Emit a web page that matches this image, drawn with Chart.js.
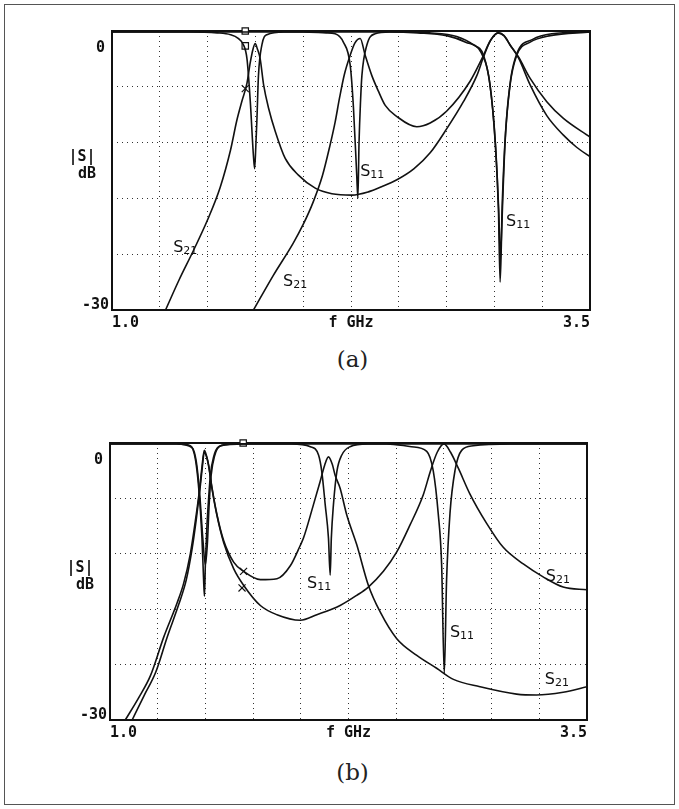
<!DOCTYPE html>
<html>
<head>
<meta charset="utf-8">
<script src="https://cdn.jsdelivr.net/npm/chart.js@4.4.1/dist/chart.umd.min.js"></script>
<style>
  html, body { margin: 0; padding: 0; background: #fff; }
  #page { position: relative; width: 679px; height: 809px; background: #fff; overflow: hidden; }
  #frame { position: absolute; left: 4px; top: 4px; width: 671px; height: 801px; border: 1px solid #555; box-sizing: border-box; }
  .panel { position: absolute; left: 0; width: 679px; height: 345px; }
  #panel-a { top: 0; }
  #panel-b { top: 410px; }
  .caption { position: absolute; left: 0; width: 679px; text-align: center; font-family: 'DejaVu Serif', serif; font-size: 23px; line-height: 27px; color: #222; padding-left: 26px; box-sizing: border-box; }
</style>
</head>
<body>
<div id="page">
  <div id="frame"></div>
  <div class="panel" id="panel-a"><canvas id="chart-a"></canvas></div>
  <div class="caption" style="top:346px">(a)</div>
  <div class="panel" id="panel-b"><canvas id="chart-b"></canvas></div>
  <div class="caption" style="top:759px">(b)</div>
</div>
<script>
// axis text
const xLabelValues = [1.0, 2.25, 3.5];
const xLabelTexts = ['1.0', 'f GHz', '3.5'];
const yLabelValues = [0, -30];
const yLabelTexts = ['0', '-30'];

// panel (a) curves, [GHz, dB]
const aS21First = [[1.28,-30],[1.35,-26.8],[1.426,-23.6],[1.5,-20.3],[1.566,-16.8],[1.62,-12.8],[1.653,-9.6],[1.68,-7.5],[1.706,-5.6],[1.723,-3.4],[1.738,-1.9],[1.749,-1.35],[1.76,-1.9],[1.775,-3.0],[1.793,-5.8],[1.819,-8.3],[1.854,-10.8],[1.906,-13.7],[1.975,-15.5],[2.063,-16.9],[2.15,-17.5],[2.255,-17.65],[2.341,-17.3],[2.41,-16.75],[2.49,-16.0],[2.58,-14.8],[2.664,-13.1],[2.751,-10.5],[2.838,-7.6],[2.908,-4.8],[2.943,-2.8],[2.98,-1.0],[3.02,-0.2],[3.05,-0.5],[3.082,-1.5],[3.126,-2.9],[3.187,-5.8],[3.274,-9.1],[3.361,-11.2],[3.43,-12.5],[3.5,-13.5]];
const aS21Second = [[1.74,-30],[1.843,-26.3],[1.948,-22.8],[2.0,-20.8],[2.052,-18.4],[2.1,-15.6],[2.139,-12.4],[2.167,-9.8],[2.19,-7.2],[2.215,-4.7],[2.246,-2.6],[2.27,-1.3],[2.298,-0.8],[2.324,-2.6],[2.359,-4.8],[2.394,-6.5],[2.429,-8.0],[2.49,-9.2],[2.594,-10.3],[2.664,-9.9],[2.751,-8.6],[2.873,-5.4],[2.934,-3.0],[2.98,-1.0],[3.02,-0.2],[3.05,-0.5],[3.082,-1.5],[3.126,-2.8],[3.187,-5.1],[3.274,-7.6],[3.361,-9.4],[3.5,-11.4]];
const aS11First = [[1.0,-0.1],[1.4,-0.1],[1.55,-0.2],[1.62,-0.4],[1.66,-0.8],[1.688,-1.5],[1.706,-3.0],[1.723,-7.5],[1.74,-13.5],[1.746,-14.8],[1.752,-12.5],[1.758,-9.5],[1.766,-4.8],[1.784,-1.5],[1.81,-0.4],[1.9,-0.1],[2.5,-0.1],[2.66,-0.2],[2.803,-0.6],[2.89,-1.5],[2.943,-2.6],[2.977,-5.8],[3.004,-11.9],[3.021,-19.1],[3.03,-27],[3.039,-20.9],[3.056,-11.9],[3.082,-5.8],[3.117,-2.6],[3.187,-1.2],[3.292,-0.5],[3.5,-0.1]];
const aS11Second = [[1.0,-0.1],[2.0,-0.1],[2.12,-0.2],[2.167,-0.3],[2.21,-1.2],[2.246,-3.7],[2.263,-8.3],[2.28,-15.5],[2.286,-18.0],[2.292,-12.0],[2.3,-7.5],[2.307,-4.8],[2.333,-1.5],[2.376,-0.3],[2.45,-0.1],[2.6,-0.2],[2.75,-0.5],[2.85,-1.2],[2.93,-2.3],[2.975,-5.5],[3.005,-12],[3.022,-19],[3.032,-24.5],[3.042,-18],[3.058,-11],[3.085,-5.2],[3.12,-2.3],[3.2,-0.9],[3.3,-0.3],[3.5,-0.1]];
const aMarkers = [[1.697,0],[1.697,-1.6],[1.697,-6.2]];
const aMarkerKinds = ['rect','rect','crossRot'];
const aCurveLabels = [['21',1.383,-23.1],['21',1.958,-26.8],['11',2.361,-14.9],['11',3.124,-20.3]];

// panel (b) curves, [GHz, dB]
const bS21First = [[1.08,-30],[1.15,-27.6],[1.212,-25.2],[1.282,-21.0],[1.352,-17.3],[1.386,-15.2],[1.421,-12.0],[1.447,-8.5],[1.47,-4.9],[1.482,-2.6],[1.494,-0.8],[1.506,-1.4],[1.517,-2.4],[1.535,-4.9],[1.561,-7.8],[1.596,-10.6],[1.648,-12.9],[1.7,-13.9],[1.788,-14.8],[1.875,-14.7],[1.945,-13.3],[1.997,-11.1],[2.014,-10.3],[2.066,-6.7],[2.101,-4.2],[2.125,-2.4],[2.145,-1.5],[2.165,-2.3],[2.18,-3.5],[2.206,-4.9],[2.241,-7.8],[2.293,-11.0],[2.354,-15.4],[2.416,-18.3],[2.503,-21.2],[2.608,-23.0],[2.712,-24.4],[2.8,-25.6],[2.939,-26.4],[3.131,-27.2],[3.235,-27.3],[3.375,-27.0],[3.5,-26.4]];
const bS21Second = [[1.116,-30],[1.18,-27.3],[1.24,-24.8],[1.3,-21.0],[1.36,-17.5],[1.4,-14.8],[1.43,-11.5],[1.452,-8.3],[1.472,-4.9],[1.484,-2.6],[1.494,-1.0],[1.506,-1.5],[1.517,-2.5],[1.535,-5.0],[1.561,-7.9],[1.596,-10.8],[1.648,-13.6],[1.7,-15.4],[1.788,-17.6],[1.875,-18.6],[1.997,-19.2],[2.084,-18.6],[2.206,-17.6],[2.293,-16.5],[2.354,-15.6],[2.433,-13.9],[2.503,-11.8],[2.572,-8.9],[2.642,-5.6],[2.68,-3.0],[2.715,-1.0],[2.75,-0.1],[2.785,-1.0],[2.825,-2.7],[2.886,-5.5],[2.974,-8.7],[3.061,-11.3],[3.166,-13.1],[3.27,-14.5],[3.375,-15.6],[3.5,-15.9]];
const bS11First = [[1.0,-0.1],[1.35,-0.1],[1.421,-0.3],[1.447,-1.7],[1.465,-4.9],[1.482,-10.3],[1.49,-14.5],[1.495,-16.6],[1.5,-13.0],[1.508,-9.0],[1.517,-6.0],[1.526,-3.5],[1.543,-1.5],[1.57,-0.4],[1.65,-0.1],[1.95,-0.1],[2.05,-0.4],[2.093,-1.3],[2.11,-3.1],[2.128,-6.7],[2.145,-10.3],[2.154,-14.3],[2.16,-10.3],[2.171,-6.7],[2.189,-3.1],[2.215,-1.3],[2.258,-0.4],[2.35,-0.1],[3.5,-0.1]];
const bS11Second = [[1.0,-0.1],[1.35,-0.1],[1.43,-0.5],[1.452,-2.0],[1.47,-5.5],[1.487,-10.5],[1.5,-13.2],[1.51,-11.0],[1.52,-6.5],[1.53,-3.5],[1.548,-1.4],[1.58,-0.3],[1.7,-0.1],[2.45,-0.1],[2.58,-0.4],[2.66,-0.9],[2.694,-3.0],[2.72,-7.6],[2.738,-13.1],[2.752,-25.0],[2.764,-14.9],[2.782,-7.6],[2.808,-3.0],[2.843,-0.8],[2.904,-0.3],[3.1,-0.1],[3.5,-0.1]];
const bMarkers = [[1.698,0],[1.7,-13.9],[1.692,-15.7]];
const bMarkerKinds = ['rect','crossRot','crossRot'];
const bCurveLabels = [['11',2.096,-15.1],['11',2.845,-20.4],['21',3.347,-14.3],['21',3.342,-25.5]];

const INK = '#111';

// frame, y-axis text and curve labels
const panelDecor = {
  id: 'panelDecor',
  beforeDatasetsDraw(chart) {
    const { ctx, chartArea: ca } = chart;
    ctx.save();
    ctx.strokeStyle = INK;
    ctx.lineWidth = 2;
    ctx.strokeRect(ca.left, ca.top, ca.right - ca.left, ca.bottom - ca.top);
    ctx.restore();
  },
  afterDraw(chart, args, opts) {
    const { ctx, chartArea: ca, scales: { x, y } } = chart;
    ctx.save();
    ctx.fillStyle = INK;
    ctx.font = 'bold 15px "DejaVu Sans Mono"';
    ctx.textAlign = 'right';
    ctx.textBaseline = 'middle';
    const dy = [17, -5];
    const dx = [-7, -3];
    yLabelValues.forEach((v, i) => {
      ctx.fillText(yLabelTexts[i], ca.left + dx[i], y.getPixelForValue(v) + dy[i]);
    });

    // |S| dB title
    const mid = (ca.top + ca.bottom) / 2;
    ctx.textAlign = 'center';
    ctx.fillText('|S|', ca.left - 30, mid - 13);
    ctx.fillText('dB', ca.left - 25, mid + 4);

    // S11 / S21 tags
    opts.labels.forEach(([sub, f, db]) => {
      const px = x.getPixelForValue(f);
      const py = y.getPixelForValue(db);
      ctx.font = '16px "DejaVu Sans"';
      const wS = ctx.measureText('S').width;
      ctx.font = '11px "DejaVu Sans"';
      const wSub = ctx.measureText(sub).width;
      const left = px - (wS + wSub) / 2;
      ctx.textAlign = 'left';
      ctx.textBaseline = 'alphabetic';
      ctx.font = '16px "DejaVu Sans"';
      ctx.fillText('S', left, py + 6);
      ctx.font = '11px "DejaVu Sans"';
      ctx.fillText(sub, left + wS, py + 8);
    });
    ctx.restore();
  }
};

function curve(points, width) {
  return {
    data: points.map(([f, db]) => ({ x: f, y: db })),
    borderColor: INK,
    borderWidth: width,
    pointRadius: 0,
    fill: false,
    cubicInterpolationMode: 'monotone'
  };
}

function makeChart(id, curves, markers, kinds, labels, pad) {
  const datasets = curves.map(c => curve(c, 1.6));
  datasets.push({
    data: markers.map(([f, db]) => ({ x: f, y: db })),
    showLine: false,
    pointStyle: kinds,
    pointRadius: kinds.map(k => k === 'rect' ? 4.5 : 5),
    pointBorderColor: INK,
    pointBackgroundColor: '#fff',
    pointBorderWidth: 1.2,
    clip: false
  });

  const gridStyle = { color: '#333', lineWidth: 1, drawTicks: false };
  const borderStyle = { display: false, dash: [1, 4] };

  return new Chart(document.getElementById(id), {
    type: 'line',
    data: { datasets },
    options: {
      responsive: true,
      maintainAspectRatio: false,
      animation: false,
      events: [],
      layout: { padding: pad },
      plugins: {
        legend: { display: false },
        tooltip: { enabled: false },
        panelDecor: { labels }
      },
      scales: {
        x: {
          type: 'linear',
          min: 1.0,
          max: 3.5,
          grid: gridStyle,
          border: borderStyle,
          ticks: {
            stepSize: 0.25,
            autoSkip: false,
            maxRotation: 0,
            align: 'inner',
            padding: 4,
            color: INK,
            font: { family: 'DejaVu Sans Mono', size: 15, weight: 'bold' },
            callback: v => {
              const i = xLabelValues.findIndex(t => Math.abs(t - v) < 1e-6);
              return i >= 0 ? xLabelTexts[i] : '';
            }
          },
          afterFit: s => { s.height = 25; }
        },
        y: {
          type: 'linear',
          min: -30,
          max: 0,
          grid: gridStyle,
          border: borderStyle,
          ticks: { stepSize: 6, display: false },
          afterFit: s => { s.width = 0; }
        }
      }
    },
    plugins: [panelDecor]
  });
}

makeChart('chart-a', [aS21First, aS21Second, aS11First, aS11Second], aMarkers, aMarkerKinds, aCurveLabels,
  { top: 31, left: 112, right: 89, bottom: 10 });
makeChart('chart-b', [bS21First, bS21Second, bS11First, bS11Second], bMarkers, bMarkerKinds, bCurveLabels,
  { top: 33, left: 110, right: 92, bottom: 10 });
</script>
</body>
</html>
